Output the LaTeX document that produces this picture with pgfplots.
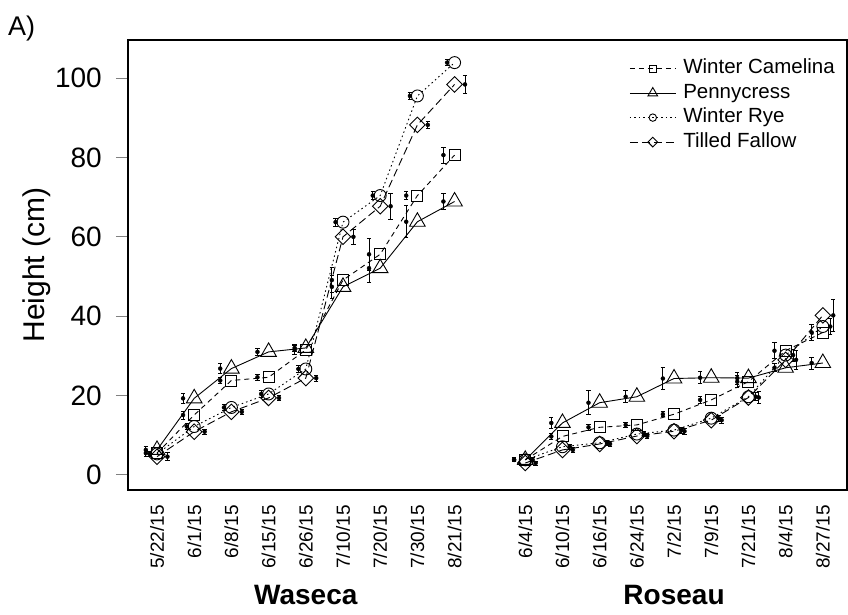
\documentclass[border=0pt]{standalone}
\usepackage{fontspec}
\setmainfont{Liberation Sans}
\usepackage{pgfplots}
\usepackage{pgfplotstable}
\pgfplotsset{compat=1.18}

% Waseca: categories at 1..9 ; Roseau: categories at 10.9..18.9
\pgfplotstableread{
x    wc    wce  pc    pce  wr     wre  tf    tfe
1    5.5   0.8  6.3   0.8  5.3    0.6  4.6   1.0
2    15.1  1.0  19.3  1.2  12.2   0.8  10.9  0.6
3    23.8  0.8  26.8  1.2  17.0   0.7  15.9  0.6
4    24.6  0.7  31.0  1.0  20.4   0.8  19.4  0.7
5    31.5  1.2  32.0  0.8  26.7   0.8  24.4  0.8
6    49.1  3.1  47.4  3.0  63.7   1.0  60.0  1.9
7    55.6  4.0  52.1  3.5  70.4   1.0  67.7  3.3
8    70.4  1.0  63.8  4.0  95.5   0.8  88.2  0.8
9    80.6  2.0  68.9  2.0  103.9  0.8  98.4  2.2
}\waseca

\pgfplotstableread{
x     wc    wce  pc    pce  wr    wre  tf    tfe
10.9  3.8   0.5  3.8   0.5  3.8   0.5  3.0   0.5
11.9  9.7   0.8  13.1  1.5  7.1   0.7  6.3   0.6
12.9  12.0  0.8  18.2  3.0  8.1   0.6  7.8   0.6
13.9  12.6  0.6  19.7  1.5  10.3  0.6  9.8   0.6
14.9  15.3  0.6  24.3  2.8  11.3  0.8  11.0  0.8
15.9  18.9  1.0  24.5  1.5  14.3  0.7  13.8  0.8
16.9  23.5  1.5  24.4  1.5  19.7  1.0  19.5  1.5
17.9  31.3  2.0  27.0  1.0  30.2  1.5  29.0  2.5
18.9  35.9  2.0  28.2  1.5  37.4  2.0  40.2  4.0
}\roseau

\pgfplotsset{
  wcs/.style={black, line width=0.9pt, dash pattern=on 5pt off 4pt, mark=square, mark size=5.5pt, mark options={solid}},
  pcs/.style={black, line width=0.9pt, solid, mark=triangle, mark size=9pt, mark options={solid}},
  wrs/.style={black, line width=0.9pt, dash pattern=on 1.5pt off 3pt, mark=o, mark size=6pt, mark options={solid}},
  tfs/.style={black, line width=0.9pt, dash pattern=on 8pt off 4pt, mark=square, mark size=5.5pt, mark options={solid, rotate=45}},
  ebs/.style={black, forget plot, only marks, mark=none,
    error bars/.cd, y dir=both, y explicit,
    error bar style={solid, line width=0.9pt},
    error mark options={rotate=90, mark size=2.2pt, solid, line width=0.8pt}},
}

\begin{document}
\begin{tikzpicture}
\begin{axis}[
  scale only axis, width=719pt, height=450pt,
  xmin=0.22, xmax=19.55, ymin=-3.8, ymax=109.6,
  clip=false,
  axis line style={line width=1.2pt},
  /pgf/number format/assume math mode=true,
  xtick={1,2,3,4,5,6,7,8,9,10.9,11.9,12.9,13.9,14.9,15.9,16.9,17.9,18.9},
  xticklabels={5/22/15,6/1/15,6/8/15,6/15/15,6/26/15,7/10/15,7/20/15,7/30/15,8/21/15,
               6/4/15,6/10/15,6/16/15,6/24/15,7/2/15,7/9/15,7/21/15,8/4/15,8/27/15},
  xtick style={draw=none},
  xticklabel style={rotate=90, anchor=east, inner sep=0pt, font=\fontsize{19}{22}\selectfont},
  xticklabel shift=3pt,
  ytick={0,20,40,60,80,100},
  ytick pos=left,
  tick align=outside,
  ytick style={line width=1pt},
  major tick length=12pt,
  yticklabel style={inner sep=0pt, anchor=east, font=\fontsize{28}{32}\selectfont},
  yticklabel shift=14pt,
  ylabel={Height (cm)},
  ylabel style={at={(axis description cs:-0.127,0.5)}, anchor=center, font=\fontsize{30}{34}\selectfont},
  legend style={draw=none, fill=none, at={(axis description cs:0.697,0.963)}, anchor=north west,
    inner sep=0pt, row sep=1pt, column sep=5pt, font=\fontsize{20.5}{24}\selectfont,
    nodes={inner sep=2pt, text height=15pt, text depth=4.5pt}},
  legend cell align=left,
  legend image code/.code={\draw[#1, mark repeat=2, mark phase=2, /tikz/every mark/.append style={scale=0.62}]
     plot coordinates {(0pt,0pt) (23pt,0pt) (46pt,0pt)};},
]
% Waseca
\addplot[wcs] table[x=x, y=wc]{\waseca}; \addlegendentry{Winter Camelina}
\addplot[pcs] table[x=x, y=pc]{\waseca}; \addlegendentry{Pennycress}
\addplot[wrs] table[x=x, y=wr]{\waseca}; \addlegendentry{Winter Rye}
\addplot[tfs] table[x=x, y=tf]{\waseca}; \addlegendentry{Tilled Fallow}
% Roseau
\addplot[wcs, forget plot] table[x=x, y=wc]{\roseau};
\addplot[pcs, forget plot] table[x=x, y=pc]{\roseau};
\addplot[wrs, forget plot] table[x=x, y=wr]{\roseau};
\addplot[tfs, forget plot] table[x=x, y=tf]{\roseau};
% error bars, offset beside the markers
\addplot[ebs] table[x expr=\thisrow{x}-0.30, y=wc, y error=wce]{\waseca};
\addplot[ebs] table[x expr=\thisrow{x}-0.30, y=pc, y error=pce]{\waseca};
\addplot[ebs] table[x expr=\thisrow{x}-0.20, y=wr, y error=wre]{\waseca};
\addplot[ebs] table[x expr=\thisrow{x}+0.28, y=tf, y error=tfe]{\waseca};
\addplot[ebs] table[x expr=\thisrow{x}-0.30, y=wc, y error=wce]{\roseau};
\addplot[ebs] table[x expr=\thisrow{x}-0.30, y=pc, y error=pce]{\roseau};
\addplot[ebs] table[x expr=\thisrow{x}+0.20, y=wr, y error=wre]{\roseau};
\addplot[ebs] table[x expr=\thisrow{x}+0.28, y=tf, y error=tfe]{\roseau};

\node[font=\bfseries\fontsize{28}{32}\selectfont, anchor=center] at ([yshift=-105pt]axis cs:5,-3.8) {Waseca};
\node[font=\bfseries\fontsize{28}{32}\selectfont, anchor=center] at ([yshift=-105pt]axis cs:14.9,-3.8) {Roseau};
\node[font=\fontsize{27}{32}\selectfont, anchor=base west, inner sep=0pt] at (axis description cs:-0.1669,1.011) {A)};
\coordinate (bl) at (rel axis cs:0,0);
\end{axis}
\pgfresetboundingbox
\path[use as bounding box] ([xshift=-128pt,yshift=-124pt]bl) rectangle ++(848pt,614pt);
\end{tikzpicture}
\end{document}
